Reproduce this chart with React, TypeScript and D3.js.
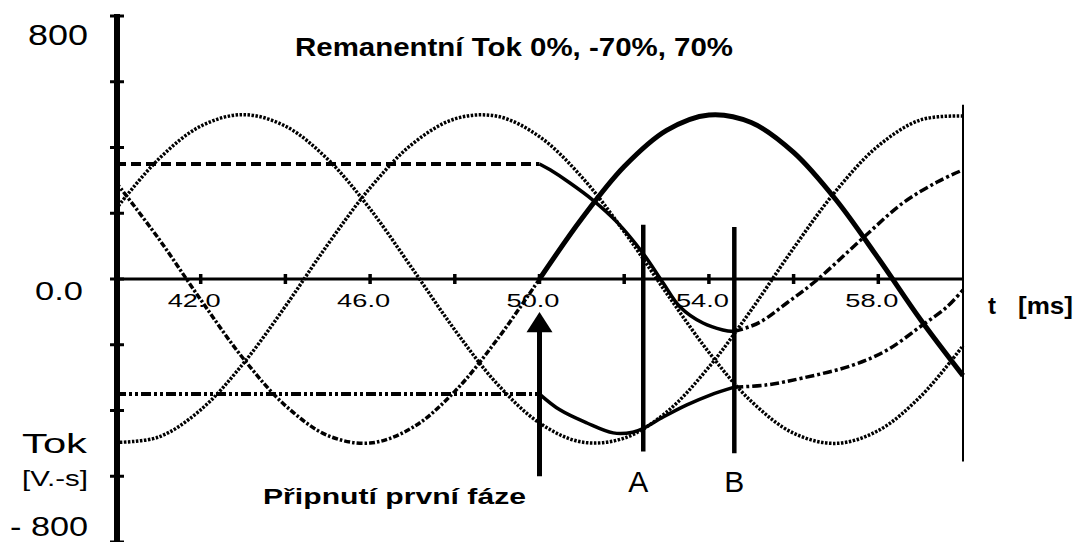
import React from 'react';
import * as d3 from 'd3';

// Time axis samples [ms]
const TIME_MS = [40, 41, 42, 43, 44, 45, 46, 47, 48, 49, 50, 51, 52, 53, 54, 55, 56, 57, 58, 59, 60];

// Prospective (steady-state) fluxes of the three phases [V.s scaled]
const FLUX_PROSPECTIVE_1 = [213, 364, 465, 500, 465, 364, 213, 31, -155, -319, -438, -496, -484, -405, -268, -94, 94, 268, 405, 484, 496];
const FLUX_PROSPECTIVE_2 = [294, 124, -63, -241, -385, -476, -499, -452, -342, -184, 0, 184, 342, 452, 499, 476, 385, 241, 63, -124, -294];
const FLUX_PROSPECTIVE_3 = [-497, -481, -398, -258, -83, 105, 277, 411, 487, 495, 433, 310, 144, -43, -223, -372, -469, -500, -461, -357, -203];

// Phase with 0 % remanent flux (first phase switched at 50 ms)
const FLUX_REM_0 = [0, 0, 0, 0, 0, 0, 0, 0, 0, 0, 0, 184, 342, 452, 499, 476, 385, 241, 63, -124, -294];

// Phase with +70 % remanent flux
const FLUX_REM_P70_T = [40, 50, 50.25, 50.72, 51.26, 51.83, 52.44, 52.92, 53.32, 53.86, 54.33, 54.6, 54.73, 55.21, 55.84, 56.55, 57.64, 58.58, 59.39, 60];
const FLUX_REM_P70_V = [350, 350, 332, 292, 240, 173, 79, -12, -85, -134, -155, -160, -155, -131, -73, -3, 125, 231, 295, 332];

// Phase with -70 % remanent flux
const FLUX_REM_M70_T = [40, 50, 50.48, 51.12, 51.74, 52.2, 52.44, 52.92, 53.48, 54.03, 54.6, 55.37, 56.22, 57.4, 58.21, 58.98, 59.62, 60];
const FLUX_REM_M70_V = [-350, -350, -398, -438, -468, -466, -455, -420, -383, -353, -329, -322, -301, -262, -216, -146, -85, -33];

// Switching events [ms]
const SWITCH_MS = 50;
const EVENT_A_MS = 52.45;
const EVENT_B_MS = 54.6;

// Axis ticks
const Y_TICKS = [-800, -600, -400, -200, 0, 200, 400, 600, 800];
const X_TICKS = [42, 44, 46, 48, 50, 52, 54, 56, 58];
const X_TICK_LABELS = [42, 46, 50, 54, 58];

const FONT = "'Liberation Sans', Arial, Helvetica, sans-serif";

type P = [number, number];

const x = d3.scaleLinear().domain([40, 60]).range([116, 963]);
const y = d3.scaleLinear().domain([-800, 800]).range([542, 16]);

const zip = (ts: number[], vs: number[]): P[] => ts.map((t, i) => [t, vs[i]] as P);
const between = (pts: P[], t0: number, t1: number) => pts.filter((p) => p[0] >= t0 - 1e-9 && p[0] <= t1 + 1e-9);

const smooth = d3
  .line<P>()
  .x((d) => x(d[0]))
  .y((d) => y(d[1]))
  .curve(d3.curveCatmullRom.alpha(0.5));

export default function App() {
  const p1 = zip(TIME_MS, FLUX_PROSPECTIVE_1);
  const p2 = zip(TIME_MS, FLUX_PROSPECTIVE_2);
  const p3 = zip(TIME_MS, FLUX_PROSPECTIVE_3);
  const rem0 = zip(TIME_MS, FLUX_REM_0);
  const remP = zip(FLUX_REM_P70_T, FLUX_REM_P70_V);
  const remM = zip(FLUX_REM_M70_T, FLUX_REM_M70_V);

  const x0 = x(SWITCH_MS);

  return (
    <svg
      width={1075}
      height={542}
      style={{ position: 'absolute', left: 0, top: 0, background: '#fff' }}
      fontFamily={FONT}
    >
      <rect width={1075} height={542} fill="#fff" />

      {/* title */}
      <text x={295} y={56} fontSize={26} fontWeight="bold" textLength={438} lengthAdjust="spacingAndGlyphs">
        Remanentní Tok 0%, -70%, 70%
      </text>

      {/* x axis */}
      <line x1={x(40)} x2={x(60)} y1={y(0)} y2={y(0)} stroke="#000" strokeWidth={3} />
      {X_TICKS.map((t) => (
        <line key={t} x1={x(t)} x2={x(t)} y1={y(0) - 5} y2={y(0) + 5} stroke="#000" strokeWidth={3.5} />
      ))}
      {X_TICK_LABELS.map((t) => (
        <text
          key={t}
          x={x(t) - 33}
          y={307}
          fontSize={19}
          textLength={53}
          lengthAdjust="spacingAndGlyphs"
        >
          {t.toFixed(1)}
        </text>
      ))}

      {/* right frame line */}
      <line x1={x(60)} x2={x(60)} y1={y(530)} y2={y(-555)} stroke="#000" strokeWidth={2} />

      {/* prospective fluxes */}
      <path d={smooth(p1) || ''} fill="none" stroke="#000" strokeWidth={3.5} strokeDasharray="2.5 1.5" />
      <path d={smooth(p3) || ''} fill="none" stroke="#000" strokeWidth={3.5} strokeDasharray="2.5 1.5" />
      <path
        d={smooth(between(p2, 40, SWITCH_MS)) || ''}
        fill="none"
        stroke="#000"
        strokeWidth={3.5}
        strokeDasharray="6 2 2.5 2"
      />

      {/* +70 % remanent phase */}
      <path d={smooth(between(remP, 40, SWITCH_MS)) || ''} fill="none" stroke="#000" strokeWidth={4} strokeDasharray="10 5" />
      <path d={smooth(between(remP, SWITCH_MS, EVENT_B_MS)) || ''} fill="none" stroke="#000" strokeWidth={3.5} />
      <path
        d={smooth(between(remP, EVENT_B_MS, 60)) || ''}
        fill="none"
        stroke="#000"
        strokeWidth={3.5}
        strokeDasharray="9 3 3 3"
      />

      {/* -70 % remanent phase */}
      <path
        d={smooth(between(remM, 40, SWITCH_MS)) || ''}
        fill="none"
        stroke="#000"
        strokeWidth={4}
        strokeDasharray="10 3 3 3 3 3"
      />
      <path d={smooth(between(remM, SWITCH_MS, EVENT_B_MS)) || ''} fill="none" stroke="#000" strokeWidth={3.5} />
      <path
        d={smooth(between(remM, EVENT_B_MS, 60)) || ''}
        fill="none"
        stroke="#000"
        strokeWidth={3.5}
        strokeDasharray="9 3 3 3"
      />

      {/* 0 % remanent phase (switched first) */}
      <path d={smooth(between(rem0, SWITCH_MS, 60)) || ''} fill="none" stroke="#000" strokeWidth={5} />

      {/* y axis */}
      <line x1={x(40) + 1} x2={x(40) + 1} y1={y(800) - 2} y2={y(-800)} stroke="#000" strokeWidth={6} />
      {Y_TICKS.map((v) => (
        <line key={v} x1={x(40) - 6} x2={x(40) + 8} y1={y(v)} y2={y(v)} stroke="#000" strokeWidth={3} />
      ))}

      {/* y labels */}
      <text x={28} y={45} fontSize={30} textLength={60} lengthAdjust="spacingAndGlyphs">800</text>
      <text x={35} y={300} fontSize={26} textLength={48} lengthAdjust="spacingAndGlyphs">0.0</text>
      <text x={22} y={453} fontSize={28} textLength={65} lengthAdjust="spacingAndGlyphs">Tok</text>
      <text x={22} y={486} fontSize={22} textLength={66} lengthAdjust="spacingAndGlyphs">[V.-s]</text>
      <text x={10} y={536} fontSize={27} textLength={78} lengthAdjust="spacingAndGlyphs">- 800</text>

      {/* x label */}
      <text x={988} y={314} fontSize={24} fontWeight="bold">t</text>
      <text x={1018} y={314} fontSize={24} fontWeight="bold" textLength={55} lengthAdjust="spacingAndGlyphs">[ms]</text>

      {/* switching arrow */}
      <line x1={x0} x2={x0} y1={y(-160)} y2={y(-600)} stroke="#000" strokeWidth={5} />
      <polygon
        points={`${x0},${y(-100)} ${x0 - 13},${y(-162)} ${x0 + 13},${y(-162)}`}
        fill="#000"
      />
      <text x={263} y={504} fontSize={22} fontWeight="bold" textLength={263} lengthAdjust="spacingAndGlyphs">
        Připnutí první fáze
      </text>

      {/* event markers A and B */}
      <line x1={x(EVENT_A_MS)} x2={x(EVENT_A_MS)} y1={y(165)} y2={y(-525)} stroke="#000" strokeWidth={4.5} />
      <line x1={x(EVENT_B_MS)} x2={x(EVENT_B_MS)} y1={y(158)} y2={y(-530)} stroke="#000" strokeWidth={4.5} />
      <text x={x(EVENT_A_MS) - 5} y={492} fontSize={30} textAnchor="middle">A</text>
      <text x={x(EVENT_B_MS)} y={492} fontSize={30} textAnchor="middle">B</text>
    </svg>
  );
}
